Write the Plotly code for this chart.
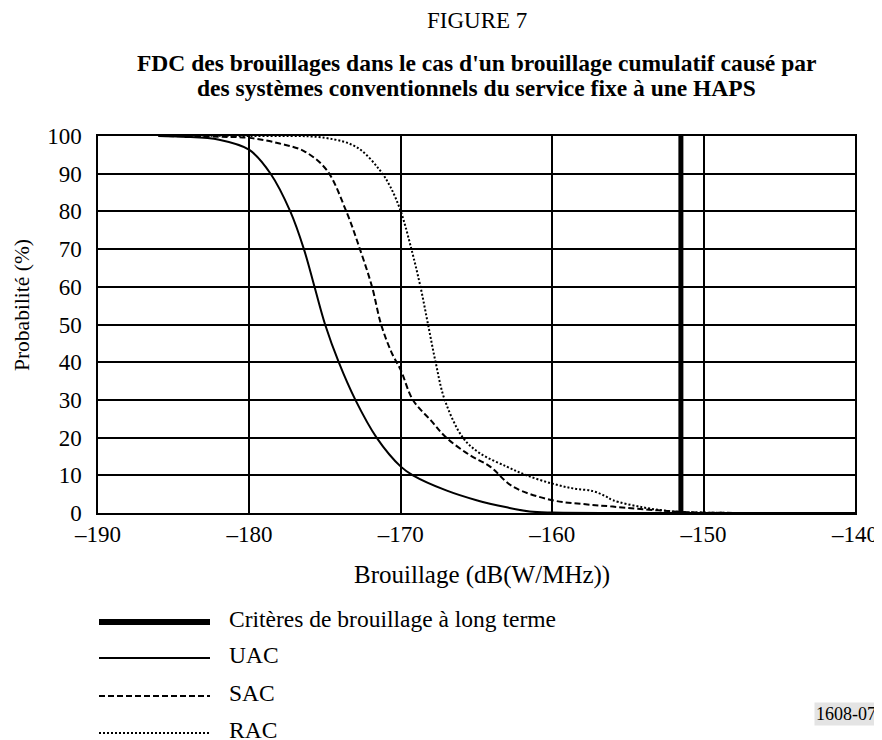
import plotly.graph_objects as go

# Brouillage (dB(W/MHz)) vs probabilité (%)
uac_x = [-186, -184.4, -182, -180, -178.6, -177.3, -176.4, -175.7, -175.0, -174.1, -173.0,
         -171.6, -170.0, -169.2, -167, -165, -163, -161.5, -160, -150, -140]
uac_y = [100, 99.8, 99, 96.3, 90, 80, 70, 60, 50, 40, 30,
         20, 12.3, 10, 6, 3.4, 1.5, 0.4, 0.1, 0, 0]

sac_x = [-186, -182, -180, -178, -176.4, -174.9, -173.6, -172.7, -171.9, -171.3, -170.6,
         -170.0, -169.2, -168, -167, -165.5, -164.1, -162.6, -160, -158, -156, -153, -151,
         -145, -140]
sac_y = [100, 99.8, 99.5, 98, 96, 91, 80, 70, 60, 50, 42.5,
         37.9, 30, 24.5, 20, 15.5, 12.3, 7, 3.4, 2.4, 1.7, 0.7, 0.2,
         0, 0]

rac_x = [-186, -180, -175, -172.9, -171.4, -170.7, -170.0, -169.3, -168.7, -168.2, -167.7,
         -167.1, -165.9, -164.8, -163, -161.7, -160, -158.6, -157.3, -156.5, -156, -154,
         -152, -150, -145, -140]
rac_y = [100, 100, 99.5, 97, 91, 86.6, 80, 70, 60, 50, 40,
         30, 20, 15.9, 12.3, 10, 7.8, 6.5, 5.8, 4.5, 3.4, 1.5,
         0.4, 0.1, 0, 0]

critere_x = -151.5  # critères de brouillage à long terme

x_ticks = [-190, -180, -170, -160, -150, -140]
x_labels = ['–190', '–180', '–170', '–160', '–150', '–140']
y_ticks = [0, 10, 20, 30, 40, 50, 60, 70, 80, 90, 100]

legend_names = ['Critères de brouillage à long terme', 'UAC', 'SAC', 'RAC']

FONT = 'Liberation Serif, Times New Roman, serif'

# the page puts the figure 8px in from the window corner
OFF = 8
W, H = 882 - OFF, 740 - OFF
# plot area in window pixels
L, R, T, B = 98, 855, 136, 513


def px(x):
    return (x - L) / (R - L)


def py(y):
    return (B - y) / (B - T)


fig = go.Figure()
fig.add_trace(go.Scatter(x=[critere_x, critere_x], y=[0, 100], mode='lines',
                         line=dict(color='black', width=5), name=legend_names[0]))
fig.add_trace(go.Scatter(x=uac_x, y=uac_y, mode='lines', line_shape='spline',
                         line=dict(color='black', width=2), name=legend_names[1]))
fig.add_trace(go.Scatter(x=sac_x, y=sac_y, mode='lines', line_shape='spline',
                         line=dict(color='black', width=2, dash='6px,3px'), name=legend_names[2]))
fig.add_trace(go.Scatter(x=rac_x, y=rac_y, mode='lines', line_shape='spline',
                         line=dict(color='black', width=2, dash='2px,2px'), name=legend_names[3]))

annotations = [
    dict(text='FIGURE 7', x=0.5, y=py(21), font=dict(size=23)),
    dict(text="<b>FDC des brouillages dans le cas d'un brouillage cumulatif causé par</b>",
         x=0.5, y=py(63), font=dict(size=23.5)),
    dict(text='<b>des systèmes conventionnels du service fixe à une HAPS</b>',
         x=0.5, y=py(88), font=dict(size=23.5)),
    dict(text='Brouillage (dB(W/MHz))', x=px(482), y=py(575), font=dict(size=25)),
    dict(text='Probabilité (%)', x=px(22), y=py(305), textangle=-90, font=dict(size=21.5)),
    dict(text='1608-07', x=px(878), y=py(714), xanchor='right', font=dict(size=18),
         bgcolor='#e4e4e4', borderpad=1),
]

# legend drawn below the chart
leg_rows = [622, 658, 696, 733]
leg_styles = [dict(width=6), dict(width=2), dict(width=2, dash='6px,3px'), dict(width=2, dash='2px,2px')]
shapes = []
for name, row, st in zip(legend_names, leg_rows, leg_styles):
    shapes.append(dict(type='line', xref='paper', yref='paper', x0=px(99), x1=px(210),
                       y0=py(row), y1=py(row), line=dict(color='black', **st)))
    annotations.append(dict(text=name, x=px(227), y=py(row - 3), xanchor='left', font=dict(size=23.5)))

for a in annotations:
    a.update(xref='paper', yref='paper', showarrow=False)
    a.setdefault('xanchor', 'center')
    a['yanchor'] = 'middle'
    a['font'].update(family=FONT, color='black')

fig.update_layout(
    width=W, height=H,
    margin=dict(l=L - OFF, r=W - (R - OFF), t=T - OFF, b=H - (B - OFF)),
    paper_bgcolor='white', plot_bgcolor='white',
    showlegend=False,
    font=dict(family=FONT, size=20, color='black'),
    annotations=annotations, shapes=shapes,
)
fig.update_xaxes(range=[-190, -140], tickvals=x_ticks, ticktext=x_labels,
                 showgrid=True, gridcolor='black', gridwidth=1.5, zeroline=False,
                 showline=True, mirror=True, linecolor='black', linewidth=1.5,
                 ticks='', tickfont=dict(size=23), automargin=False)
fig.update_yaxes(range=[0, 100], tickvals=y_ticks,
                 showgrid=True, gridcolor='black', gridwidth=1.5, zeroline=False,
                 showline=True, mirror=True, linecolor='black', linewidth=1.5,
                 ticks='', tickfont=dict(size=23), ticklabelstandoff=10, automargin=False)

fig.write_html('out.html')
